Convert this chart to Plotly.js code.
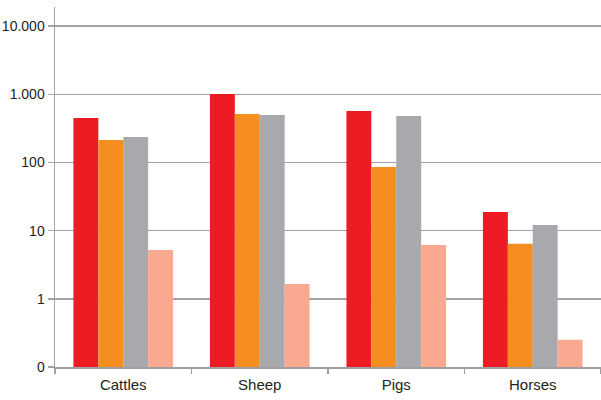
<!DOCTYPE html>
<html>
<head>
<meta charset="utf-8">
<script src="https://cdn.plot.ly/plotly-3.0.1.min.js"></script>
<style>html,body{margin:0;padding:0;background:#fff;}#chart{width:601px;height:400px;}</style>
</head>
<body>
<div id="chart"></div>
<script>
const categories = ["Cattles", "Sheep", "Pigs", "Horses"];
const seriesA = [448, 1010, 567, 18.7];
const seriesB = [213, 513, 86, 6.4];
const seriesC = [236, 496, 479, 12.1];
const seriesD = [5.2, 1.65, 6.15, 0.25];
const tickValues = [0.1, 1, 10, 100, 1000, 10000];
const tickLabels = ["0", "1", "10", "100", "1.000", "10.000"];

const colors = ["#ED1C24", "#F58E1F", "#A7A9AC", "#F8A98F"];
const series = [seriesA, seriesB, seriesC, seriesD];
const traces = series.map((s, i) => ({
  type: "bar",
  x: categories,
  y: s,
  marker: {color: colors[i], line: {width: 0}},
  hoverinfo: "skip"
}));

const fontFam = "'Liberation Sans', Arial, sans-serif";
Plotly.newPlot("chart", traces, {
  width: 601, height: 400,
  margin: {l: 55, r: 0, t: 7, b: 33},
  barmode: "group",
  bargap: 0.27,
  bargroupgap: 0,
  showlegend: false,
  paper_bgcolor: "#fff",
  plot_bgcolor: "#fff",
  font: {family: fontFam, size: 14, color: "#231F20"},
  xaxis: {
    type: "category",
    showgrid: false,
    showline: true,
    linecolor: "#9D9FA2",
    linewidth: 1.5,
    ticks: "outside",
    tickson: "boundaries",
    ticklen: 5,
    tickcolor: "#9D9FA2",
    tickwidth: 1.5,
    ticklabelstandoff: 3,
    tickfont: {family: fontFam, size: 15, color: "#231F20"}
  },
  yaxis: {
    type: "log",
    range: [-1, 4.28],
    tickvals: tickValues,
    ticktext: tickLabels,
    showgrid: true,
    gridcolor: "#A0A2A5",
    gridwidth: 1.5,
    showline: true,
    linecolor: "#A0A2A5",
    linewidth: 1.5,
    ticks: "outside",
    ticklen: 6,
    tickcolor: "#A0A2A5",
    tickwidth: 1.5,
    zeroline: false,
    tickfont: {family: fontFam, size: 14, color: "#231F20"}
  }
}, {staticPlot: true, displayModeBar: false});
</script>
</body>
</html>
